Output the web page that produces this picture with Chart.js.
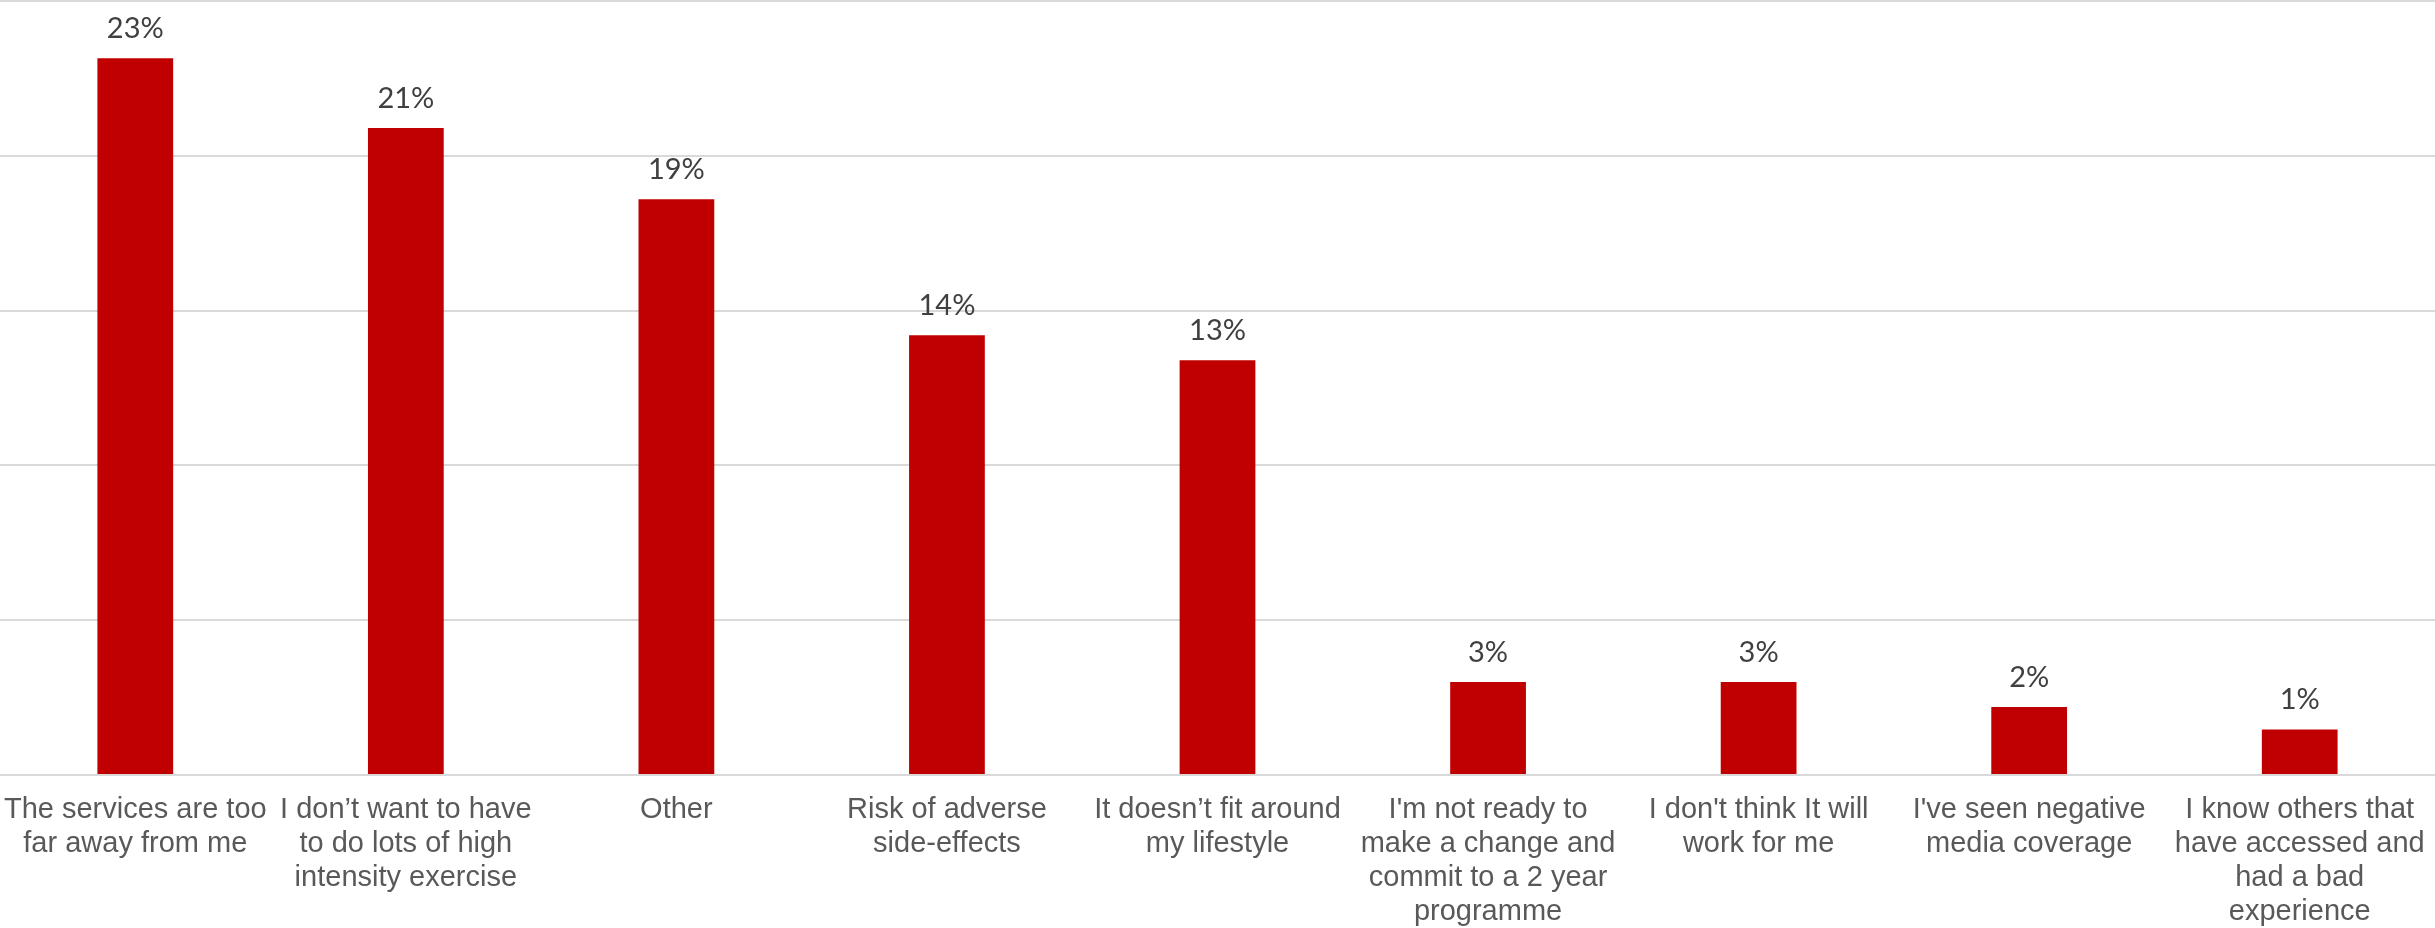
<!DOCTYPE html>
<html>
<head>
<meta charset="utf-8">
<title>Reasons for not taking part</title>
<script src="https://cdn.jsdelivr.net/npm/chart.js@4.4.1/dist/chart.umd.min.js"></script>
<style>
    html, body { margin: 0; padding: 0; background: #fff; }
    #chartBox { width: 2435px; height: 928px; position: relative; }
</style>
</head>
<body>
<div id="chartBox"><canvas id="myChart"></canvas></div>
<script>
const reasons = [
    ['The services are too', 'far away from me'],
    ['I don’t want to have', 'to do lots of high', 'intensity exercise'],
    ['Other'],
    ['Risk of adverse', 'side-effects'],
    ['It doesn’t fit around', 'my lifestyle'],
    ["I'm not ready to", 'make a change and', 'commit to a 2 year', 'programme'],
    ["I don't think It will", 'work for me'],
    ["I've seen negative", 'media coverage'],
    ['I know others that', 'have accessed and', 'had a bad', 'experience']
];
const percentages = [23.15, 20.9, 18.6, 14.2, 13.4, 3.0, 3.0, 2.2, 1.47];
const yTicks = [0, 5, 10, 15, 20, 25];

// writes the rounded percentage above every bar
const barLabels = {
    id: 'barLabels',
    afterDatasetsDraw(chart) {
        const ctx = chart.ctx;
        const meta = chart.getDatasetMeta(0);
        ctx.save();
        ctx.font = '29px Lato, "Open Sans", sans-serif';
        ctx.fillStyle = '#404040';
        ctx.textAlign = 'center';
        ctx.textBaseline = 'alphabetic';
        meta.data.forEach(function (bar, i) {
            ctx.fillText(Math.round(percentages[i]) + '%', bar.x, bar.y - 20);
        });
        ctx.restore();
    }
};

const data = {
    labels: reasons,
    datasets: [{
        data: percentages,
        backgroundColor: '#C00000',
        borderWidth: 0,
        barPercentage: 0.28,
        categoryPercentage: 1
    }]
};

const config = {
    type: 'bar',
    data: data,
    plugins: [barLabels],
    options: {
        responsive: true,
        maintainAspectRatio: false,
        animation: false,
        layout: { padding: { top: 1, left: 0, right: 0, bottom: 0 } },
        plugins: {
            legend: { display: false },
            tooltip: { enabled: false }
        },
        scales: {
            x: {
                grid: { display: false, drawTicks: false },
                border: { display: false },
                ticks: {
                    color: '#595959',
                    font: { family: '"Liberation Sans", Arial, sans-serif', size: 29, lineHeight: 34 / 29 },
                    padding: 18,
                    maxRotation: 0,
                    minRotation: 0,
                    autoSkip: false
                },
                // labels fit inside their own category, so no side padding needed
                afterFit: function (axis) {
                    axis.height = 153;
                    axis.paddingLeft = 0;
                    axis.paddingRight = 0;
                }
            },
            y: {
                min: yTicks[0],
                max: yTicks[yTicks.length - 1],
                afterBuildTicks: function (axis) {
                    axis.ticks = yTicks.map(v => ({ value: v }));
                },
                grid: { color: '#d9d9d9', lineWidth: 2, drawTicks: false },
                border: { display: false },
                ticks: { display: false }
            }
        }
    }
};

new Chart(document.getElementById('myChart'), config);
</script>
</body>
</html>
